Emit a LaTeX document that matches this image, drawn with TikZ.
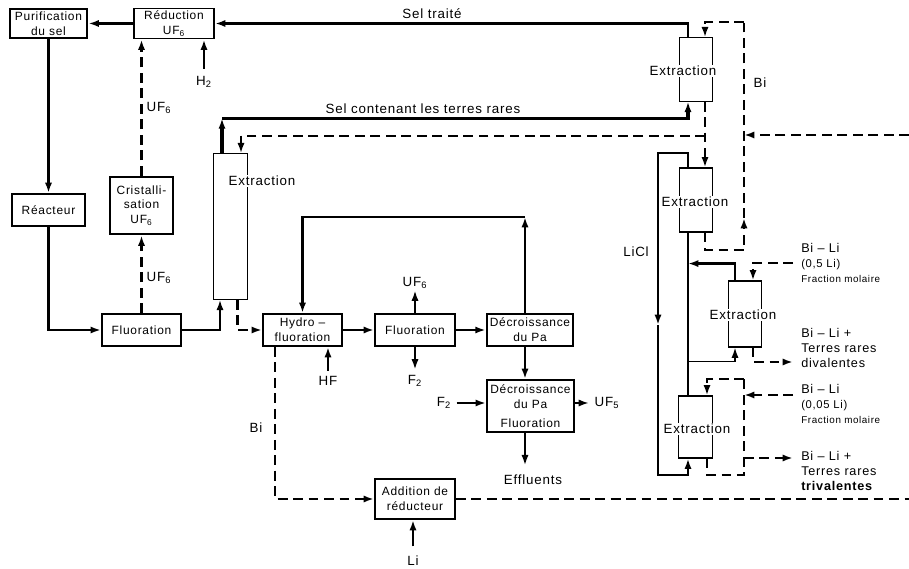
\documentclass[tikz,border=0pt]{standalone}
\usepackage{fontspec}
\setmainfont[LetterSpace=6]{Liberation Sans}
\usetikzlibrary{arrows.meta, calc}

\begin{document}
\begin{tikzpicture}[
    x=0.025cm, y=-0.025cm,
    flow/.style={line width=1.7pt, -{Latex[length=2.6mm, width=1.8mm]}},
    feed/.style={line width=2pt},
    bism/.style={line width=1.5pt, dash pattern=on 7pt off 4pt},
    bismflow/.style={bism, -{Latex[length=2.6mm, width=1.8mm]}},
    unit/.style={
        rectangle,
        draw,
        line width=1.4pt,
        inner sep=1pt,
        align=center,
        font=\fontsize{8.5}{10.5}\selectfont
    },
    column/.style={
        rectangle,
        draw,
        line width=0.8pt,
        minimum width=0.83cm
    },
    coltext/.style={fill=white, inner sep=1pt, font=\fontsize{9.5}{11}\selectfont},
    tag/.style={inner sep=1pt, font=\fontsize{9.5}{11}\selectfont},
    side/.style={align=left, anchor=west, inner sep=0pt, font=\fontsize{9}{10.5}\selectfont}
]
\useasboundingbox (0,0) rectangle (909,569);

% salt circuit
\node[unit, minimum width=1.93cm, minimum height=0.73cm, line width=1.9pt] (purif) at (48.5,23.5) {Purification\\du sel};
\node[unit, minimum width=2cm, minimum height=0.75cm] (reduc) at (174,23.5) {Réduction\\UF\textsubscript{6}};
\node[unit, minimum width=1.83cm, minimum height=0.8cm] (reacteur) at (48.5,210) {Réacteur};
\node[unit, minimum width=1.58cm, minimum height=1.43cm, line width=1.9pt] (cristal) at (141.5,205.5) {Cristalli-\\sation\\UF\textsubscript{6}};
\node[unit, minimum width=1.98cm, minimum height=0.8cm] (fluorA) at (141.5,330) {Fluoration};

% protactinium line
\node[unit, minimum width=1.98cm, minimum height=0.8cm] (hydro) at (302.5,330) {Hydro –\\fluoration};
\node[unit, minimum width=2cm, minimum height=0.8cm] (fluorB) at (415,330) {Fluoration};
\node[unit, minimum width=2.15cm, minimum height=0.8cm, line width=1.9pt] (decay) at (530,330) {Décroissance\\du Pa};
\node[unit, minimum width=2.18cm, minimum height=1.3cm] (decayF) at (530.5,406) {Décroissance\\du Pa\\[3pt]Fluoration};
\node[unit, minimum width=2cm, minimum height=1cm] (reduct) at (415,499) {Addition de\\réducteur};

% extraction columns
\node[column, minimum height=3.63cm] (extL) at (230.5,226.5) {};
\node[column, minimum height=1.58cm] (extU) at (696,69.5) {};
\node[column, minimum height=1.6cm] (extM) at (696,200) {};
\node[column, minimum height=1.65cm] (extR) at (745,314) {};
\node[column, minimum height=1.55cm] (extB) at (695.5,427) {};

% free ends
\coordinate (rich) at ($(extL.north)+(-8.5,-35)$);
\coordinate (bsplit) at ($(extU.south)+(9,34)$);
\coordinate (bitop) at (744,22);
\coordinate (bilow) at (744,250);
\coordinate (biup) at (744,218);
\coordinate (bireturn) at (909,135);
\coordinate (recyc) at (525,217);
\coordinate (biout) at (909,499);
\coordinate (liclT) at (658,153);
\coordinate (liclM) at (658,325);
\coordinate (liclB) at (658,475);
\coordinate (bl1) at (793,263);
\coordinate (bl2) at (793,362);
\coordinate (bl3) at (793,395);
\coordinate (bl4) at (793,458);
\coordinate (loopTop) at (744,379);
\coordinate (loopBot) at (744,475);

% labels
\node[tag] (h2) at (204,82) {H\textsubscript{2}};
\node[tag, anchor=west] (uf6a) at (145,108) {UF\textsubscript{6}};
\node[tag, anchor=west] (uf6b) at (145,278) {UF\textsubscript{6}};
\node[tag] (traite) at (432,14) {Sel traité};
\node[tag] (rares) at (423,109) {Sel contenant les terres rares};
\node[tag] (uf6c) at (415,283) {UF\textsubscript{6}};
\node[tag] (f2a) at (415,381) {F\textsubscript{2}};
\node[tag] (hf) at (328,381) {HF};
\node[tag] (f2b) at (444,403) {F\textsubscript{2}};
\node[tag] (uf5) at (607,403) {UF\textsubscript{5}};
\node[tag] (efflu) at (533,480) {Effluents};
\node[tag] (li) at (413,561) {Li};
\node[tag] (bia) at (256,428) {Bi};
\node[tag] (bib) at (760,83) {Bi};
\node[tag] (licl) at (636,252) {LiCl};

% salt loop
\draw[flow] (reduc) -- (purif);
\draw[flow] (purif) -- (reacteur);
\draw[flow] (reacteur.south) |- (fluorA.west);
\draw[bismflow] (fluorA) -- (cristal);
\draw[bismflow] (cristal) -- (cristal |- reduc.south);
\draw[flow, shorten <=1.5mm] (h2) -- (h2 |- reduc.south);
\draw[flow] ($(extU.north)+(-8,0)$) |- (reduc.east);
\draw[flow] (fluorA.east) -| ($(extL.south)+(-10.5,0)$);
\draw[flow, line width=2.2pt] ($(extL.north)+(-8.5,0)$) -- (rich);
\draw[flow, line width=2.2pt] (rich) -| ($(extU.south)+(-8,0)$);

% bismuth on the upper columns
\draw[bismflow] ($(extU.south)+(9,0)$) -- ($(extM.north)+(9,0)$);
\draw[bismflow] (bsplit) -| ($(extL.north)+(10.5,0)$);
\draw[bismflow] (bitop) -| ($(extU.north)+(9,0)$);
\draw[bismflow] ($(extM.south)+(9,0)$) |- (bilow) -- (biup);
\draw[bism] (biup) -- (bitop);
\draw[bismflow] (bireturn) -- (bireturn -| bitop);

% protactinium line
\draw[bismflow] ($(extL.south)+(7,0)$) |- (hydro.west);
\draw[flow] (hydro) -- (fluorB);
\draw[flow] (fluorB) -- (decay);
\draw[flow] (fluorB) -- (uf6c);
\draw[flow, shorten >=1mm] (fluorB) -- (f2a);
\draw[flow, shorten <=1mm] (hf) -- (hf |- hydro.south);
\draw[flow] (recyc |- decay.north) -- (recyc);
\draw[flow] (recyc) -| (hydro.north);
\draw[flow] (recyc |- decay.south) -- (recyc |- decayF.north);
\draw[flow, shorten <=1mm] (f2b) -- (f2b -| decayF.west);
\draw[flow, shorten >=1mm] (decayF.east |- uf5) -- (uf5);
\draw[flow, shorten >=2mm] (recyc |- decayF.south) -- (recyc |- efflu.north);
\draw[flow, shorten <=2mm] (li) -- (li |- reduct.south);
\draw[bismflow] ($(hydro.south)+(-27.5,0)$) |- (reduct.west);
\draw[bism] (reduct.east) -- (biout);

% lower columns
\draw[flow] ($(extM.north)+(-8,0)$) |- (liclT) -- (liclM);
\draw[flow] (liclM) -- (liclB) -| ($(extB.south)+(-7.5,0)$);
\draw[feed] ($(extM.south)+(-8,0)$) -- ($(extB.north)+(-7.5,0)$);
\draw[flow] ($(extR.north)+(-10,0)$) |- ($(extM.south)+(-8,31)$);
\draw[flow, line width=1.1pt] ($(extM.south)+(-8,129)$) -| ($(extR.south)+(-10,0)$);
\draw[bismflow] (bl1) -| ($(extR.north)+(8,0)$);
\draw[bismflow] ($(extR.south)+(8,0)$) |- (bl2);
\draw[bism] ($(extB.south)+(11.5,0)$) |- (loopBot) -- (loopTop);
\draw[bismflow] (loopTop) -| ($(extB.north)+(11.5,0)$);
\draw[bismflow] (bl3) -- (bl3 -| loopTop);
\draw[bismflow] (bl4 -| loopTop) -- (bl4);

% column texts
\node[coltext] (extLt) at (262,181) {Extraction};
\node[coltext] (extUt) at (683,71) {Extraction};
\node[coltext] (extMt) at (695,202) {Extraction};
\node[coltext] (extRt) at (743,315) {Extraction};
\node[coltext] (extBt) at (697,429) {Extraction};

% bismuth-lithium streams
\node[side] (inA) at (801,263) {Bi – Li\\{\fontsize{8}{10.5}\selectfont (0,5 Li)}\\{\fontsize{7}{10.5}\selectfont Fraction molaire}};
\node[side] (outA) at (801,348) {Bi – Li +\\Terres rares\\divalentes};
\node[side] (inB) at (801,404) {Bi – Li\\{\fontsize{8}{10.5}\selectfont (0,05 Li)}\\{\fontsize{7}{10.5}\selectfont Fraction molaire}};
\node[side] (outB) at (801,471) {Bi – Li +\\Terres rares\\\textbf{trivalentes}};

\end{tikzpicture}
\end{document}
